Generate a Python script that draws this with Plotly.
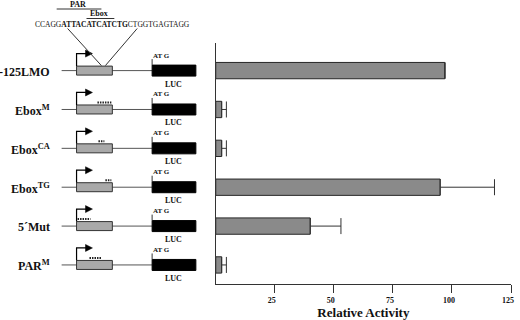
import plotly.graph_objects as go

# ---------------- data ----------------
constructs = ["-125LMO", "Ebox<sup>M</sup>", "Ebox<sup>CA</sup>", "Ebox<sup>TG</sup>", "5´Mut", "PAR<sup>M</sup>"]
activity = [97, 2.5, 2.5, 95, 40, 2.5]
activity_err = [0, 2, 2, 23, 13, 2]
tick_values = [25, 50, 75, 100, 125]
x_title = "Relative Activity"
sequence_plain_1 = "CCAGG"
sequence_bold = "ATTACATCATCTG"
sequence_plain_2 = "CTGGTGAGTAGG"

# ---------------- layout constants (pixels) ----------------
W, H = 520, 320
PLOT_L, PLOT_R, PLOT_T, PLOT_B = 217, 514, 43, 284
Y_TOP, Y_BOT = -0.71, 5.49
SERIF = "Liberation Serif"

def row_px(i):
    return PLOT_T + (i - Y_TOP) * (PLOT_B - PLOT_T) / (Y_BOT - Y_TOP)

# mutation marks (x spans in the left panel) per construct
mut_spans = [None, (98, 112), (99, 105), (106, 112), (78, 91), (90, 102)]

fig = go.Figure()

fig.add_trace(go.Bar(
    x=activity, y=list(range(len(constructs))), orientation="h",
    width=0.42,
    marker=dict(color="#8a8a8a", line=dict(color="#262626", width=1)),
    error_x=dict(type="data", symmetric=False, array=activity_err,
                 arrayminus=[0] * len(activity_err),
                 color="#333333", thickness=1, width=8),
    hoverinfo="skip", showlegend=False,
))

# invisible trace to create the left diagram subplot
fig.add_trace(go.Scatter(x=[], y=[], xaxis="x2", yaxis="y2",
                         showlegend=False, hoverinfo="skip"))

shapes = []
annotations = []

def line(x0, y0, x1, y1, color="#444444", width=1, dash=None):
    d = dict(type="line", xref="x2", yref="y2", x0=x0, y0=y0, x1=x1, y1=y1,
             line=dict(color=color, width=width))
    if dash:
        d["line"]["dash"] = dash
    shapes.append(d)

def rect(x0, y0, x1, y1, fill, edge="#333333"):
    shapes.append(dict(type="rect", xref="x2", yref="y2", x0=x0, y0=y0, x1=x1, y1=y1,
                       fillcolor=fill, line=dict(color=edge, width=1)))

def text(x, y, s, size, xanchor="center", bold=True, color="#111111"):
    annotations.append(dict(xref="x2", yref="y2", x=x, y=y, text=s, showarrow=False,
                            xanchor=xanchor, yanchor="middle",
                            font=dict(family=SERIF, size=size, color=color,
                                      weight="bold" if bold else "normal")))

for i, name in enumerate(constructs):
    yc = row_px(i)
    text(52, yc + 1, name, 12, xanchor="right")
    line(62, yc, 153, yc, color="#555555")
    rect(77, yc - 4.5, 113, yc + 4.5, "#a9a9a9")
    rect(153, yc - 5.5, 197, yc + 5.5, "#000000", edge="#000000")
    # transcription start arrow
    shapes.append(dict(type="path", xref="x2", yref="y2",
                       path=f"M 77 {yc-4.5} L 77 {yc-17} L 87 {yc-17}",
                       line=dict(color="#000000", width=1.2)))
    shapes.append(dict(type="path", xref="x2", yref="y2",
                       path=f"M 86 {yc-20.5} L 93 {yc-17} L 86 {yc-13.5} Z",
                       fillcolor="#000000", line=dict(color="#000000", width=0.5)))
    # ATG and LUC
    text(152, yc - 15, "AT G", 7, xanchor="left")
    line(153, yc - 11.5, 153, yc - 5.5, color="#333333")
    text(175, yc + 13.5, "LUC", 8)
    # mutations
    if mut_spans[i]:
        a, b = mut_spans[i]
        line(a, yc - 7, b, yc - 7, color="#222222", width=2, dash="1.5px,1px")

# top sequence detail
y0 = row_px(0)
text(33, 24, f"{sequence_plain_1}<b>{sequence_bold}</b>{sequence_plain_2}", 7.5,
     xanchor="left", bold=False)
text(78, 4, "PAR", 8)
line(57, 9, 102, 9, color="#333333")
text(100, 13.5, "Ebox", 8)
line(87, 18.5, 115, 18.5, color="#333333")
line(68, 28.5, 102, y0 - 5, color="#333333")
line(138, 28.5, 106, y0 - 5, color="#333333")

fig.update_layout(
    width=W, height=H,
    margin=dict(l=0, r=0, t=0, b=0),
    paper_bgcolor="white", plot_bgcolor="white",
    font=dict(family=SERIF, color="#111111"),
    xaxis=dict(domain=[PLOT_L / W, PLOT_R / W], range=[0, 125],
               tickvals=tick_values, ticks="outside", ticklen=8, tickwidth=1,
               tickcolor="#333333", showline=True, linecolor="#333333", linewidth=1,
               showgrid=False, zeroline=False, ticklabelshift=-3,
               tickfont=dict(family=SERIF, size=8, weight="bold", color="#111111"),
               title=dict(text=x_title, standoff=4,
                          font=dict(family=SERIF, size=13, weight="bold", color="#111111")),
               anchor="y"),
    yaxis=dict(domain=[(H - PLOT_B) / H, (H - PLOT_T) / H], range=[Y_BOT, Y_TOP],
               showline=True, linecolor="#333333", linewidth=1, ticks="",
               showticklabels=False, showgrid=False, zeroline=False, anchor="x"),
    xaxis2=dict(domain=[0, PLOT_L / W], range=[0, PLOT_L], visible=False, anchor="y2",
                fixedrange=True),
    yaxis2=dict(domain=[0, 1], range=[H, 0], visible=False, anchor="x2", fixedrange=True),
    shapes=shapes,
    annotations=annotations,
    bargap=0.5,
)

fig.write_html(
    "out.html",
    post_script=("document.body.style.margin='0';"
                 "var mb=document.querySelectorAll('.modebar-container');"
                 "mb.forEach(function(e){e.style.display='none';});"),
)
